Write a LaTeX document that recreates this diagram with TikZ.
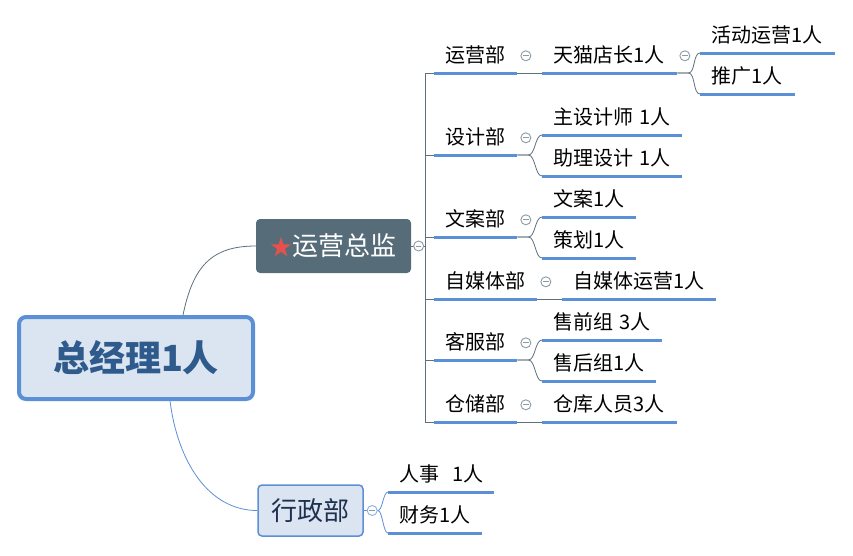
\documentclass[tikz,border=0pt]{standalone}
\usepackage{fontspec}
\setmainfont{Noto Sans CJK SC}
\usepackage{xcolor}
\definecolor{cLine}{HTML}{5B8FD6}
\definecolor{cConn}{HTML}{5D707C}
\definecolor{cFold}{HTML}{8E9AA3}
\definecolor{cBossFill}{HTML}{DBE5F1}
\definecolor{cBossText}{HTML}{2F5A8C}
\definecolor{cHead}{HTML}{566D79}
\definecolor{cStar}{HTML}{E8504B}
\definecolor{cAdminText}{HTML}{1F3050}
\usetikzlibrary{positioning,calc}
\tikzset{
  node-boss/.style={draw=cLine,line width=4pt,fill=cBossFill,rounded corners=7pt,
    minimum width=234pt,minimum height=82pt,text=cBossText,
    font=\bfseries\fontsize{36}{42}\selectfont},
  node-head/.style={fill=cHead,rounded corners=4pt,minimum width=155pt,
    minimum height=54pt,text=white,font=\fontsize{26}{30}\selectfont},
  node-admin/.style={draw=cLine,line width=1.5pt,fill=cBossFill,rounded corners=4pt,
    minimum width=105pt,minimum height=51pt,text=cAdminText,
    font=\fontsize{26}{30}\selectfont},
  % 部门 / 岗位：文字在上，下划线另画
  node-dept/.style={anchor=south west,inner xsep=11pt,inner ysep=6.5pt,
    text height=17pt,text depth=4pt,align=left,font=\fontsize{20}{24}\selectfont},
  node-leaf/.style={node-dept},
  node-fold/.style={circle,draw=cFold,fill=white,minimum size=10pt,inner sep=0pt,
    line width=0.9pt,path picture={\draw[cFold,line width=0.9pt]
      ([xshift=-2.8pt]path picture bounding box.center) --
      ([xshift=2.8pt]path picture bounding box.center);}},
  uline/.style={draw=cLine,line width=3pt},
  conn/.style={draw=cConn,line width=0.8pt},
  conn-blue/.style={draw=cLine,line width=0.8pt},
}
\begin{document}
\begin{tikzpicture}[x=1pt,y=-1pt]
  \useasboundingbox (0,0) rectangle (853,555);
  \node[node-boss] (boss) at (136,358) {总经理1人};
  \node[node-head] (jl) at (333.5,246)
    {{\fontsize{22}{24}\selectfont\color{cStar}★}运营总监};
  \node[node-admin] (xz) at (310.5,510.5) {行政部};

  % 部门
  \node[node-dept,text width=61pt] (yyb) at (434,73)  {运营部};
  \node[node-dept,text width=61pt] (sjb) at (434,155) {设计部};
  \node[node-dept,text width=61pt] (wab) at (434,237) {文案部};
  \node[node-dept,text width=81pt] (zmt) at (434,299) {自媒体部};
  \node[node-dept,text width=61pt] (kfb) at (434,360) {客服部};
  \node[node-dept,text width=61pt] (ccb) at (434,422) {仓储部};

  % 岗位
  \node[node-leaf,text width=113pt] (tm)    at (542,73)  {天猫店长1人};
  \node[node-leaf,text width=113pt] (hd)    at (700,53)  {活动运营1人};
  \node[node-leaf,text width=73pt]  (tg)    at (700,94)  {推广1人};
  \node[node-leaf,text width=118pt] (zsj)   at (542,135) {主设计师 1人};
  \node[node-leaf,text width=118pt] (zlsj)  at (542,176) {助理设计 1人};
  \node[node-leaf,text width=72pt]  (wa)    at (542,217) {文案1人};
  \node[node-leaf,text width=72pt]  (ch)    at (542,258) {策划1人};
  \node[node-leaf,text width=132pt] (zmtyy) at (562,299) {自媒体运营1人};
  \node[node-leaf,text width=98pt]  (sq)    at (542,340) {售前组 3人};
  \node[node-leaf,text width=92pt]  (sh)    at (542,381) {售后组1人};
  \node[node-leaf,text width=113pt] (ck)    at (542,422) {仓库人员3人};
  \node[node-leaf,text width=84pt]  (rs)    at (388,492) {人事~~1人};
  \node[node-leaf,text width=72pt]  (cw)    at (388,533) {财务1人};

  % 连线
  \draw[conn] ([xshift=47pt]boss.north) .. controls +(10,-48) and +(-45,0) .. (jl.west);
  \draw[conn-blue] ([xshift=34pt]boss.south) .. controls +(8,62) and +(-48,0) .. (xz.west);
  \coordinate (trunk) at ([xshift=14pt]jl.east);
  \draw[conn] (jl.east) -- (trunk);
  \foreach \d in {yyb,sjb,wab,zmt,kfb,ccb}
    \draw[conn] (trunk) |- (\d.south west);
  \draw[conn] (yyb.south east) -- (tm.south west);
  \draw[conn] (zmt.south east) -- (zmtyy.south west);
  \draw[conn] (ccb.south east) -- (ck.south west);
  \foreach \p/\c in {tm/hd,tm/tg,sjb/zsj,sjb/zlsj,wab/wa,wab/ch,kfb/sq,kfb/sh}
    \draw[conn] (\p.south east) -- ++(11,0) .. controls +(7,0) and +(-7,0) .. (\c.south west);
  \foreach \c in {rs,cw}
    \draw[conn-blue] (xz.east) -- ++(14,0) .. controls +(5,0) and +(-5,0) .. (\c.south west);

  % 下划线
  \foreach \n in {yyb,sjb,wab,zmt,kfb,ccb,tm,hd,tg,zsj,zlsj,wa,ch,zmtyy,sq,sh,ck,rs,cw}
    \draw[uline] (\n.south west) -- (\n.south east);

  % 折叠按钮
  \node[node-fold,right=2pt of jl] (f-jl) {};
  \node[node-fold,right=3pt of xz,draw=cLine!70] (f-xz) {};
  \foreach \n in {yyb,sjb,wab,zmt,kfb,ccb}
    \node[node-fold,right=3pt of \n] (f-\n) {};
  \node[node-fold,right=2pt of tm] (f-tm) {};
\end{tikzpicture}
\end{document}
